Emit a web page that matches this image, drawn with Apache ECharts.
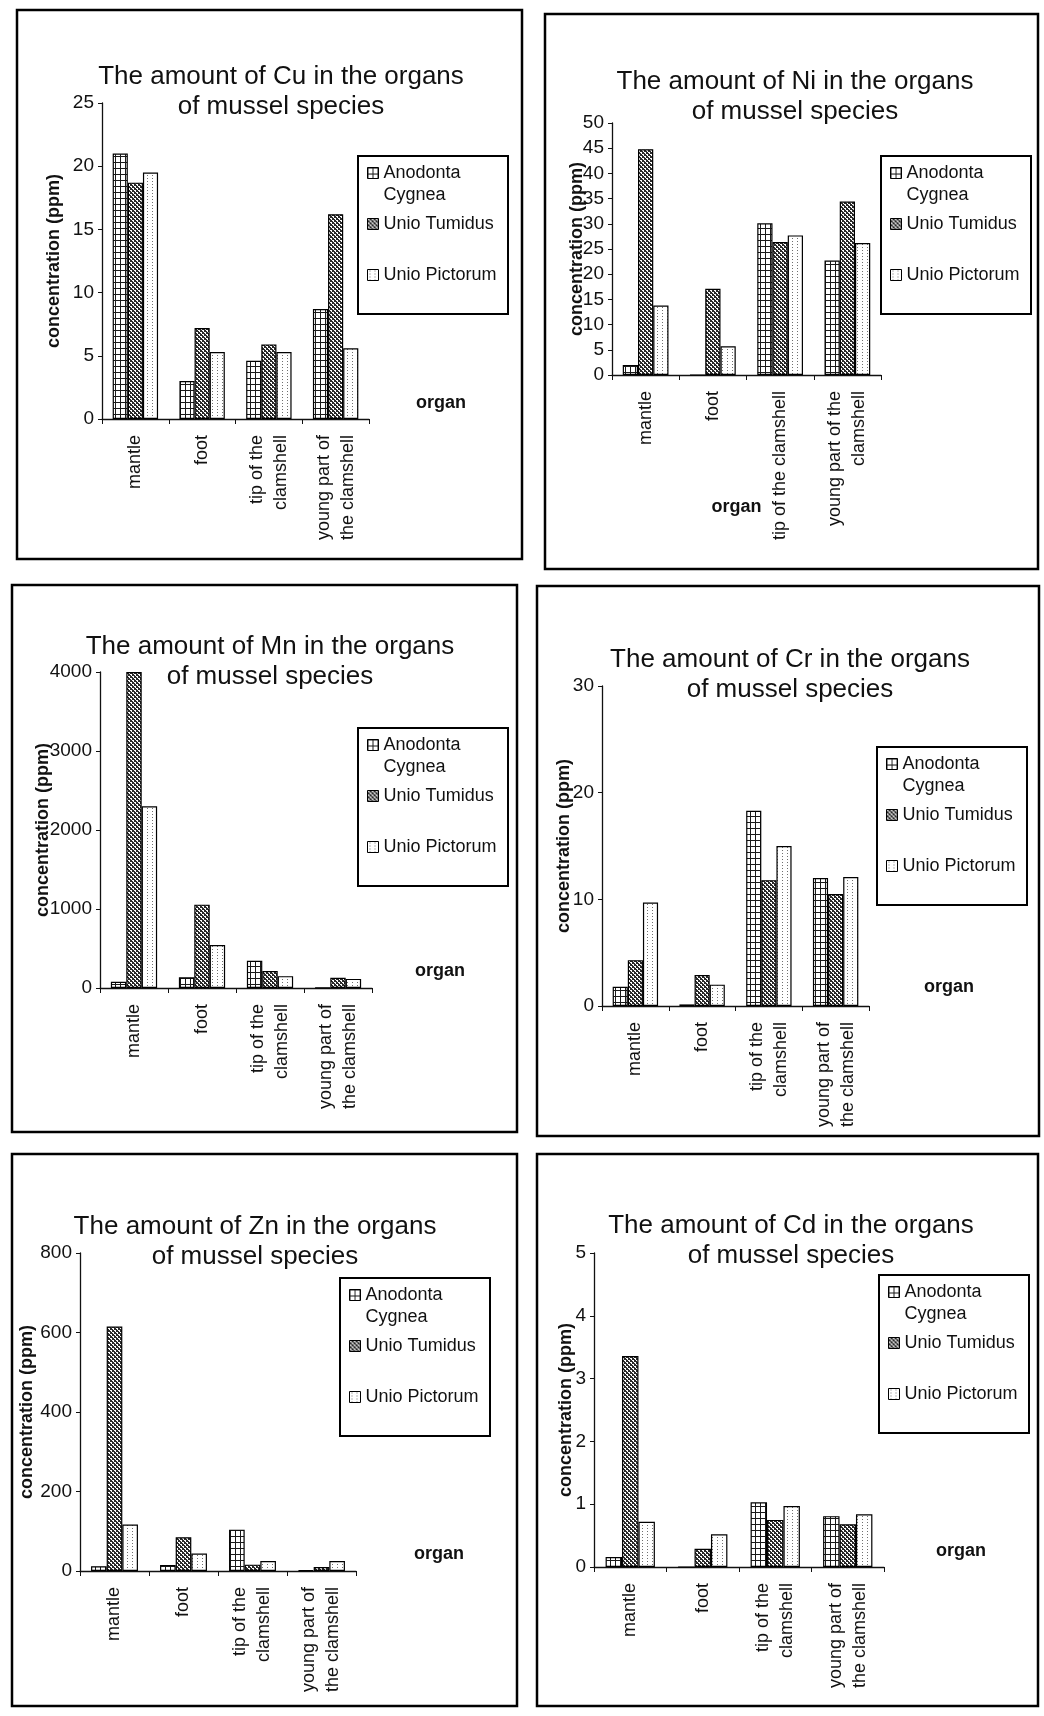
<!DOCTYPE html>
<html>
<head>
<meta charset="utf-8">
<script src="https://cdn.jsdelivr.net/npm/echarts@6/dist/echarts.min.js"></script>
<style>
  html, body { margin: 0; padding: 0; background: #ffffff; }
  #page { width: 1044px; height: 1716px; }
</style>
</head>
<body>
<div id="page"></div>
<script>
// Heavy-metal concentrations (ppm) in four organs of three mussel species.
const organs = ['mantle', 'foot', 'tip of the\nclamshell', 'young part of\nthe clamshell'];
const organsNi = ['mantle', 'foot', 'tip of the clamshell', 'young part of the\nclamshell'];
const species = ['Anodonta Cygnea', 'Unio Tumidus', 'Unio Pictorum'];

const cuAnodonta = [21.0, 3.0, 4.6, 8.7];
const cuTumidus = [18.7, 7.2, 5.9, 16.2];
const cuPictorum = [19.5, 5.3, 5.3, 5.6];

const niAnodonta = [2.0, 0, 30.1, 22.7];
const niTumidus = [44.8, 17.1, 26.4, 34.4];
const niPictorum = [13.8, 5.7, 27.7, 26.2];

const mnAnodonta = [80, 135, 345, 5];
const mnTumidus = [4000, 1055, 215, 130];
const mnPictorum = [2300, 545, 150, 115];

const crAnodonta = [1.8, 0.15, 18.3, 12.0];
const crTumidus = [4.3, 2.9, 11.8, 10.5];
const crPictorum = [9.7, 2.0, 15.0, 12.1];

const znAnodonta = [12, 15, 104, 2];
const znTumidus = [615, 85, 16, 10];
const znPictorum = [117, 44, 25, 25];

const cdAnodonta = [0.16, 0, 1.03, 0.81];
const cdTumidus = [3.36, 0.29, 0.75, 0.68];
const cdPictorum = [0.72, 0.52, 0.97, 0.84];

const FONT = "'Liberation Sans', Arial, Helvetica, sans-serif";
const INK = '#111';

// Fill textures for the three species
function texture(w, h, draw) {
  const c = document.createElement('canvas');
  c.width = w; c.height = h;
  const g = c.getContext('2d');
  draw(g);
  return { image: c, repeat: 'repeat' };
}
const gridFill = texture(5, 6, g => {
  g.fillStyle = '#fff'; g.fillRect(0, 0, 5, 6);
  g.fillStyle = '#1a1a1a'; g.fillRect(0, 0, 5, 1); g.fillRect(0, 0, 1, 6);
});
const weaveFill = texture(4, 4, g => {
  g.fillStyle = '#2a2a2a'; g.fillRect(0, 0, 4, 4);
  g.fillStyle = '#fff';
  g.fillRect(0, 0, 2, 1); g.fillRect(1, 1, 1, 1);
  g.fillRect(2, 2, 2, 1); g.fillRect(3, 3, 1, 1);
});
const dotFill = texture(5, 3, g => {
  g.fillStyle = '#fff'; g.fillRect(0, 0, 5, 3);
  g.fillStyle = '#707070'; g.fillRect(2, 1, 1, 1);
});
const fills = [gridFill, weaveFill, dotFill];

// Panel layout (page pixels)
const panels = [
  { metal: 'Cu', cats: organs, values: [cuAnodonta, cuTumidus, cuPictorum], max: 25, step: 5,
    frame: [17, 10, 505, 549], grid: [102, 103, 267, 316], title: [281, 62],
    legend: [358, 156], yNameGap: 39, organ: { loc: 'end', gap: 47, pad: 7 } },
  { metal: 'Ni', cats: organsNi, values: [niAnodonta, niTumidus, niPictorum], max: 50, step: 5,
    frame: [545, 14, 493, 555], grid: [612, 123, 269, 252], title: [795, 67],
    legend: [881, 156], yNameGap: 26, organ: { loc: 'middle', gap: 123, pad: 0 } },
  { metal: 'Mn', cats: organs, values: [mnAnodonta, mnTumidus, mnPictorum], max: 4000, step: 1000,
    frame: [12, 585, 505, 547], grid: [100, 672, 272, 316], title: [270, 632],
    legend: [358, 728], yNameGap: 48, organ: { loc: 'end', gap: 43, pad: 8 } },
  { metal: 'Cr', cats: organs, values: [crAnodonta, crTumidus, crPictorum], max: 30, step: 10,
    frame: [537, 586, 502, 550], grid: [602, 686, 267, 320], title: [790, 645],
    legend: [877, 747], yNameGap: 29, organ: { loc: 'end', gap: 55, pad: 10 } },
  { metal: 'Zn', cats: organs, values: [znAnodonta, znTumidus, znPictorum], max: 800, step: 200,
    frame: [12, 1154, 505, 552], grid: [80, 1253, 276, 318], title: [255, 1212],
    legend: [340, 1278], yNameGap: 44, organ: { loc: 'end', gap: 58, pad: 8 } },
  { metal: 'Cd', cats: organs, values: [cdAnodonta, cdTumidus, cdPictorum], max: 5, step: 1,
    frame: [537, 1154, 501, 552], grid: [594, 1253, 290, 314], title: [791, 1211],
    legend: [879, 1275], yNameGap: 19, organ: { loc: 'end', gap: 52, pad: 7 } }
];

const LEG_W = 150, LEG_H = 158;
const option = {
  animation: false,
  backgroundColor: '#ffffff',
  textStyle: { fontFamily: FONT, color: INK },
  title: [], grid: [], xAxis: [], yAxis: [], series: [], legend: [], graphic: []
};

panels.forEach((p, i) => {
  const [gl, gt, gw, gh] = p.grid;
  option.grid.push({ left: gl, top: gt, width: gw, height: gh, containLabel: false });

  option.title.push({
    text: 'The amount of ' + p.metal + ' in the organs\nof mussel species',
    left: p.title[0], top: p.title[1], textAlign: 'center', padding: 0,
    textStyle: { fontFamily: FONT, fontSize: 26, lineHeight: 30, fontWeight: 'normal', color: INK }
  });

  const organName = {
    name: 'organ',
    nameLocation: p.organ.loc,
    nameGap: p.organ.gap,
    nameMoveOverlap: false,
    nameTextStyle: p.organ.loc === 'end'
      ? { fontFamily: FONT, fontSize: 18, fontWeight: 'bold', color: INK, verticalAlign: 'bottom', lineHeight: 18, padding: [0, 0, p.organ.pad, 0] }
      : { fontFamily: FONT, fontSize: 18, fontWeight: 'bold', color: INK, lineHeight: 18, padding: [0, 20, 0, 0] }
  };
  option.xAxis.push(Object.assign({
    type: 'category', gridIndex: i, data: p.cats,
    axisLine: { lineStyle: { color: INK, width: 1.3 } },
    axisTick: { show: true, length: 5, lineStyle: { color: INK } },
    axisLabel: { rotate: 90, margin: 16, fontFamily: FONT, fontSize: 18, lineHeight: 24, color: INK, interval: 0 },
    splitLine: { show: false }
  }, organName));

  option.yAxis.push({
    type: 'value', gridIndex: i, min: 0, max: p.max, interval: p.step,
    name: 'concentration (ppm)', nameLocation: 'middle', nameRotate: 90, nameGap: p.yNameGap,
    nameMoveOverlap: false,
    nameTextStyle: { fontFamily: FONT, fontSize: 18, fontWeight: 'bold', color: INK },
    axisLine: { show: true, lineStyle: { color: INK, width: 1.3 } },
    axisTick: { show: true, length: 4, lineStyle: { color: INK } },
    axisLabel: { margin: 8, fontFamily: FONT, fontSize: 19, color: INK, formatter: v => String(v) },
    splitLine: { show: false }
  });

  species.forEach((s, k) => {
    option.series.push({
      type: 'bar', name: s, xAxisIndex: i, yAxisIndex: i,
      data: p.values[k],
      barGap: '0%', barCategoryGap: '32%',
      itemStyle: { color: fills[k], borderColor: '#000', borderWidth: 1.2 }
    });
  });

  // Legend frame and the three entries
  const [lx, ly] = p.legend;
  option.graphic.push({
    type: 'rect', shape: { x: lx, y: ly, width: LEG_W, height: LEG_H },
    style: { fill: 'none', stroke: '#000', lineWidth: 2 }, silent: true
  });
  const entryCentres = [17, 70, 121];
  species.forEach((s, k) => {
    const two = k === 0;
    option.legend.push({
      data: [s], orient: 'vertical', left: lx + 9,
      top: ly + entryCentres[k] - (two ? 33 : 11),
      padding: 0, itemWidth: 11, itemHeight: 11, itemGap: 0,
      icon: 'rect',
      itemStyle: { borderColor: '#000', borderWidth: 1 },
      formatter: two ? () => '{e| }\n{t|Anodonta}\n{t|Cygnea}' : (n => '{t|' + n + '}'),
      textStyle: {
        fontFamily: FONT, fontSize: 18, color: INK,
        rich: {
          e: { fontSize: 18, height: 22, lineHeight: 22 },
          t: { fontFamily: FONT, fontSize: 18, lineHeight: 22, color: INK }
        }
      }
    });
  });

  // Panel frame
  const [fx, fy, fw, fh] = p.frame;
  option.graphic.push({
    type: 'rect', shape: { x: fx, y: fy, width: fw, height: fh },
    style: { fill: 'none', stroke: '#000', lineWidth: 2.5 }, silent: true
  });
});

const chart = echarts.init(document.getElementById('page'), null, { renderer: 'canvas', width: 1044, height: 1716 });
chart.setOption(option);
</script>
</body>
</html>
